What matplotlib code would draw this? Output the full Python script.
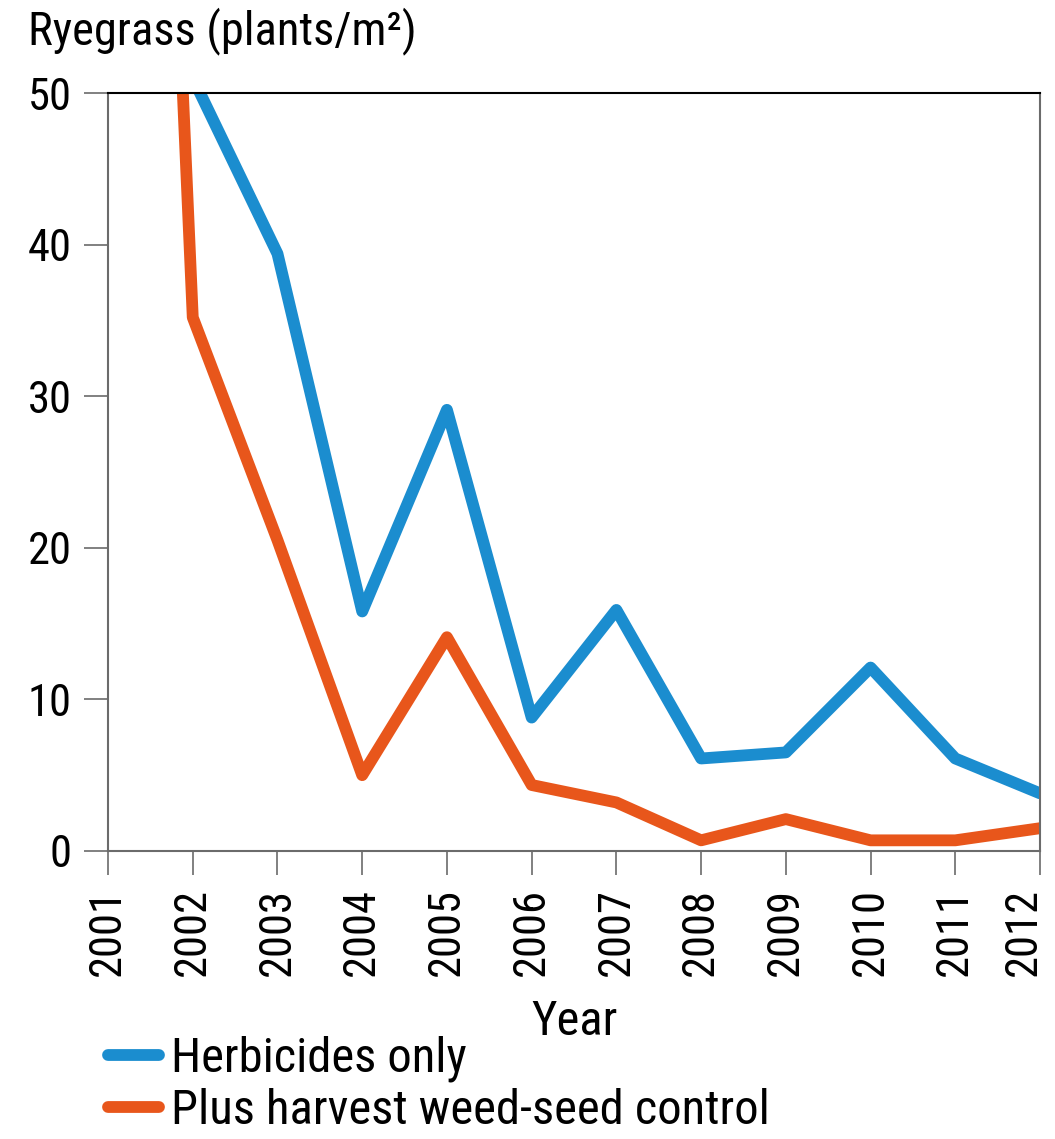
import matplotlib
matplotlib.use("Agg")

import matplotlib.pyplot as plt
from matplotlib.transforms import ScaledTranslation

plt.rcParams["font.family"] = ["Roboto Condensed", "DejaVu Sans"]

years = [2001, 2002, 2003, 2004, 2005, 2006, 2007, 2008, 2009, 2010, 2011, 2012]
herbicides_only = [162, 51, 39.4, 15.8, 29.1, 8.8, 15.9, 6.1, 6.5, 12.1, 6.1, 3.8]
plus_weed_seed = [162, 35.2, 20.5, 5.0, 14.1, 4.35, 3.2, 0.7, 2.1, 0.7, 0.7, 1.5]
series_labels = ["Herbicides only", "Plus harvest weed-seed control"]
y_ticks = [0, 10, 20, 30, 40, 50]

blue = "#1B8DCF"
orange = "#E8561B"
spine_gray = "#6b6b6b"
tick_font_size = 32
title_font_size = 33.5
label_font_size = 35

figure = plt.figure(figsize=(10.55, 11.39), dpi=100)
axes = figure.add_axes([0.1024, 0.2529, 0.8834, 0.6654])

axes.plot(years, herbicides_only, color=blue, linewidth=8.5,
          solid_capstyle="round", solid_joinstyle="round", label=series_labels[0])
axes.plot(years, plus_weed_seed, color=orange, linewidth=8.5,
          solid_capstyle="round", solid_joinstyle="round", label=series_labels[1])

axes.set_xlim(2001, 2012)
axes.set_ylim(0, 50)
axes.set_xticks(years)
axes.set_xticklabels([str(year) for year in years], rotation=90, fontsize=tick_font_size)
axes.set_yticks(y_ticks)
axes.set_yticklabels([str(tick) for tick in y_ticks], fontsize=tick_font_size)

axes.tick_params(axis="both", direction="out", length=17, width=1.2,
                 color=spine_gray)
axes.tick_params(axis="x", pad=10)
axes.tick_params(axis="y", pad=9)
axes.yaxis.get_major_ticks()[-1].tick1line.set_color("black")

# last year label sits left of its tick, as in the original
last_label = axes.get_xticklabels()[-1]
last_label.set_transform(last_label.get_transform()
                         + ScaledTranslation(-16 / 100, 0, figure.dpi_scale_trans))

for side in ["left", "right", "bottom"]:
    axes.spines[side].set_color(spine_gray)
    axes.spines[side].set_linewidth(1.5)
axes.spines["top"].set_color("black")
axes.spines["top"].set_linewidth(1.5)

axes.set_xlabel("Year", fontsize=label_font_size, labelpad=16)

figure.text(28 / 1055, 1 - 7 / 1139, "Ryegrass (plants/m²)",
            fontsize=title_font_size, ha="left", va="top")

figure.legend(loc="upper left", bbox_to_anchor=(108 / 1055, 1 - 1036 / 1139),
              frameon=False, fontsize=label_font_size, handlelength=1.05,
              handletextpad=0.25, labelspacing=0.12, borderaxespad=0,
              borderpad=0)

figure.savefig("out.png", dpi=100)
